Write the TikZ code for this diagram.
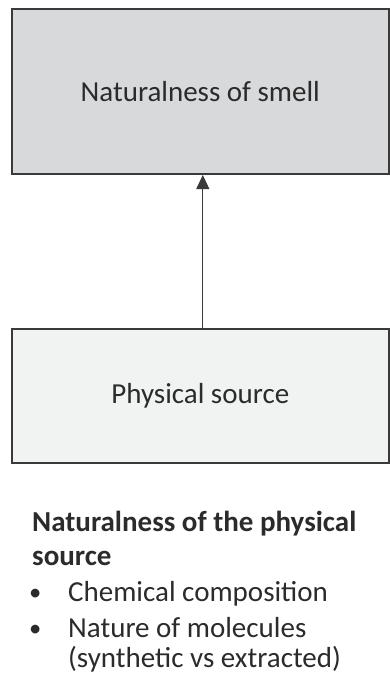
\documentclass[tikz,border=0pt]{standalone}
\usepackage{fontspec}
\setmainfont{Carlito}
\usetikzlibrary{arrows.meta}
\definecolor{boxline}{HTML}{3A3A3A}
\definecolor{topfill}{HTML}{D8D9DB}
\definecolor{botfill}{HTML}{F1F2F2}
\definecolor{txt}{HTML}{2B2B2B}
\tikzset{
  box/.style={draw=boxline, line width=2pt, minimum width=376.5pt, inner sep=0pt,
    text=txt, font=\fontsize{29}{34}\selectfont},
  link/.style={draw=boxline, line width=1pt, -{Triangle[length=14pt,width=13pt]}},
  notes/.style={text=txt, inner sep=0pt, anchor=base west}
}
\newcommand{\bul}{\hspace*{-3pt}\makebox[39pt][l]{\raisebox{0.5pt}{\scalebox{0.85}{•}}}}
\begin{document}
\begin{tikzpicture}[x=1pt,y=1pt]
\useasboundingbox (0,0) rectangle (390,-679);
\node[box, fill=topfill, minimum height=165pt] (smell) at (200.3,-91.5) {\raisebox{-1.5pt}{Naturalness of smell}};
\node[box, fill=botfill, minimum height=134pt] (source) at (200.3,-396) {Physical source};
\draw[link] ([xshift=2.5pt]source.north) -- ([xshift=2.5pt]smell.south);
\node[notes] (list) at (32,-531) {\begin{minipage}[t]{355pt}\fontsize{29}{30}\selectfont\raggedright
\textbf{Naturalness of the physical}\\[4pt]
\textbf{source}\\[6pt]
\bul Chemical composition\\[6pt]
\bul Nature of molecules\\
\hspace*{36pt}(synthetic vs extracted)
\end{minipage}};
\end{tikzpicture}
\end{document}
